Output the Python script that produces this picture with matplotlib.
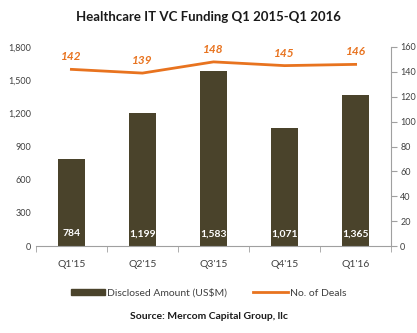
import matplotlib.pyplot as plt
import numpy as np

plt.rcParams['font.family'] = ['Lato', 'DejaVu Sans']

quarters = ["Q1'15", "Q2'15", "Q3'15", "Q4'15", "Q1'16"]
amount = [784, 1199, 1583, 1071, 1365]
deals = [142, 139, 148, 145, 146]

bar_color = '#4a432b'
line_color = '#e8731f'
text_color = '#404040'

fig = plt.figure(figsize=(4.17, 3.33), dpi=100)
ax = fig.add_axes([0.086, 0.261, 0.852, 0.598])
ax2 = ax.twinx()

x = np.arange(len(quarters))
ax.bar(x, amount, width=0.38, color=bar_color, zorder=2)
for xi, v in zip(x, amount):
    ax.text(xi, 110, f'{v:,}', ha='center', va='center', color='white',
            fontsize=7.5, fontweight='bold')

ax.set_xlim(-0.5, 4.5)
ax.set_ylim(0, 1800)
ax.set_yticks(range(0, 1801, 300))
ax.set_yticklabels([f'{v:,}' for v in range(0, 1801, 300)])
ax.set_xticks(x)
ax.set_xticklabels(quarters)
ax.set_xticks(np.arange(-0.5, 5.0, 1.0), minor=True)
ax.tick_params(axis='x', which='major', length=0, pad=10)
ax.tick_params(axis='x', which='minor', length=4, color='#a0a0a0')
ax.tick_params(axis='y', length=0, labelsize=6.5, labelcolor=text_color)
ax.tick_params(axis='x', labelsize=7.5, labelcolor=text_color)
for s in ['top', 'left', 'right']:
    ax.spines[s].set_visible(False)
ax.spines['bottom'].set_color('#a0a0a0')

ax2.plot(x, deals, color=line_color, linewidth=2, zorder=3)
for xi, v in zip(x, deals):
    ax2.text(xi, v + 10, str(v), ha='center', va='center', color=line_color,
             fontsize=8.5, fontweight='bold', fontstyle='italic')
ax2.set_ylim(0, 160)
ax2.set_yticks(range(0, 161, 20))
ax2.tick_params(axis='y', length=4, direction='out', color='#a0a0a0',
                labelsize=6.5, labelcolor=text_color, pad=2.5)
for s in ['top', 'left', 'bottom']:
    ax2.spines[s].set_visible(False)
ax2.spines['right'].set_color('#a0a0a0')

fig.text(0.5, 0.948, 'Healthcare IT VC Funding Q1 2015-Q1 2016', ha='center',
         va='center', fontsize=9.5, fontweight='bold', color='#1a1a1a')

h1 = plt.Rectangle((0, 0), 1, 1, color=bar_color)
h2 = plt.Line2D([0], [0], color=line_color, linewidth=2)
fig.legend([h1, h2], ['Disclosed Amount (US$M)', 'No. of Deals'],
           loc='center', bbox_to_anchor=(0.5, 0.12), ncol=2, frameon=False,
           fontsize=7.5, handlelength=3.3, handleheight=0.6, columnspacing=2.5,
           labelcolor=text_color, handletextpad=0.2)

fig.text(0.5, 0.05, 'Source: Mercom Capital Group, llc', ha='center',
         va='center', fontsize=7.5, fontweight='bold', color='#1a1a1a')

fig.savefig('out.png', dpi=100)
